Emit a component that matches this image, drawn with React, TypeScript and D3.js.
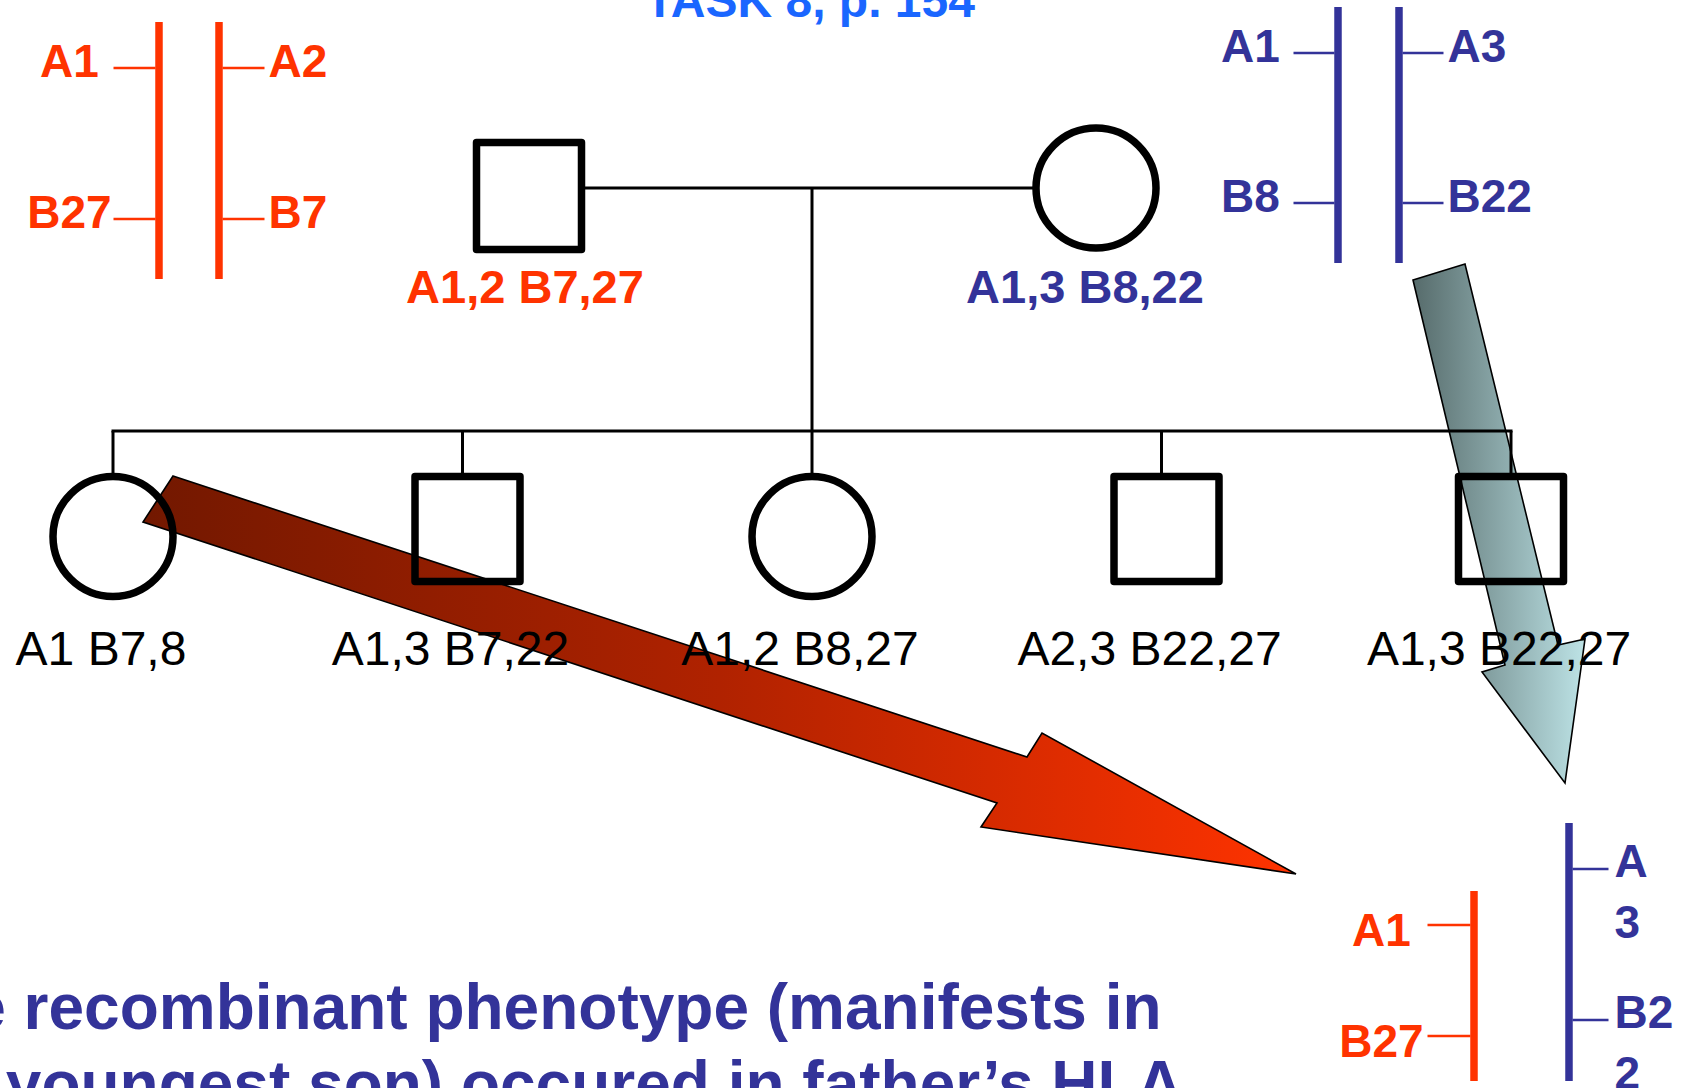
import React, { useEffect, useRef } from "react";
import * as d3 from "d3";

const WIDTH = 1686;
const HEIGHT = 1088;
const RED = "#ff3300";
const BLUE = "#333399";
const TITLE_BLUE = "#1a66ff";
const FONT = "'Liberation Sans', Arial, Helvetica, sans-serif";

// texts / genotypes
const title = "TASK 8, p. 154";
const fatherLabel = "A1,2 B7,27";
const motherLabel = "A1,3 B8,22";
const childSex = ["F", "M", "F", "M", "M"];
const childLabels = ["A1 B7,8", "A1,3 B7,22", "A1,2 B8,27", "A2,3 B22,27", "A1,3 B22,27"];
const fatherLeft = ["A1", "B27"];
const fatherRight = ["A2", "B7"];
const motherLeft = ["A1", "B8"];
const motherRight = ["A3", "B22"];
const recombLeft = ["A1", "B27"];
const recombRight = [["A", "3"], ["B2", "2"]];
const bottomText = [
  "The recombinant phenotype (manifests in",
  "the youngest son) occured in father\u2019s HLA",
];

function drawBar(g, opts) {
  const { x, y0, y1, color, loci, labels, side, tickLen, labelDx, labelDy } = opts;
  const y = d3.scalePoint().domain(labels.map((_, i) => i)).range(loci);
  g.append("line")
    .attr("x1", x).attr("x2", x)
    .attr("y1", y0).attr("y2", y1)
    .attr("stroke", color).attr("stroke-width", 7.5);
  labels.forEach((lab, i) => {
    const ty = y(i);
    const xs = side === "left" ? x - 3.5 - tickLen : x + 3.5;
    g.append("line")
      .attr("x1", xs).attr("x2", xs + tickLen)
      .attr("y1", ty).attr("y2", ty)
      .attr("stroke", color).attr("stroke-width", 2.4);
    const lines = Array.isArray(lab) ? lab : [lab];
    const t = g.append("text")
      .attr("fill", color)
      .attr("font-family", FONT)
      .attr("font-weight", "bold")
      .attr("font-size", 46)
      .attr("text-anchor", side === "left" ? "middle" : "start");
    lines.forEach((ln, j) => {
      t.append("tspan")
        .attr("x", side === "left" ? xs - labelDx : xs + tickLen + labelDx)
        .attr("y", ty + labelDy + j * 61)
        .text(ln);
    });
  });
}

export default function App() {
  const ref = useRef(null);

  useEffect(() => {
    const svg = d3.select(ref.current);
    svg.selectAll("*").remove();

    const defs = svg.append("defs");
    const redGrad = defs.append("linearGradient")
      .attr("id", "redGrad").attr("gradientUnits", "userSpaceOnUse")
      .attr("x1", 143).attr("x2", 1296).attr("y1", 0).attr("y2", 0);
    redGrad.append("stop").attr("offset", 0).attr("stop-color", "#721800");
    redGrad.append("stop").attr("offset", 0.5).attr("stop-color", "#b02200");
    redGrad.append("stop").attr("offset", 1).attr("stop-color", "#ff3300");
    const greyGrad = defs.append("linearGradient")
      .attr("id", "greyGrad").attr("gradientUnits", "userSpaceOnUse")
      .attr("x1", 1413).attr("x2", 1588).attr("y1", 0).attr("y2", 0);
    greyGrad.append("stop").attr("offset", 0).attr("stop-color", "#566b6b");
    greyGrad.append("stop").attr("offset", 1).attr("stop-color", "#bfe5e8");

    const line = d3.line().curve(d3.curveLinearClosed);

    // arrows go behind the pedigree
    svg.append("path")
      .attr("d", line([[173, 476], [1027, 757], [1042, 733], [1296, 874], [981, 827], [997, 803], [143, 522]]))
      .attr("fill", "url(#redGrad)").attr("stroke", "#000").attr("stroke-width", 1.6)
      .attr("stroke-linejoin", "miter");
    svg.append("path")
      .attr("d", line([[1413, 280], [1465, 264], [1558, 645], [1585, 639], [1565, 783], [1482, 672], [1505, 665]]))
      .attr("fill", "url(#greyGrad)").attr("stroke", "#000").attr("stroke-width", 1.6);

    // title (cut at top)
    svg.append("text")
      .attr("x", 645).attr("y", 17)
      .attr("fill", TITLE_BLUE).attr("font-family", FONT)
      .attr("font-weight", "bold").attr("font-size", 48)
      .text(title);

    // pedigree
    const x = d3.scaleLinear().domain([0, childSex.length - 1]).range([113, 1511]);
    const ped = svg.append("g").attr("fill", "none").attr("stroke", "#000");
    const coupleY = 188;
    const sibY = 431;
    const childTop = 473;
    const fatherX = 529;
    const motherX = 1096;
    const sq = 105;
    const r = 60;
    const sw = 7.5;
    const midX = x((childSex.length - 1) / 2);

    ped.append("line").attr("x1", fatherX + sq / 2).attr("x2", motherX - r)
      .attr("y1", coupleY).attr("y2", coupleY).attr("stroke-width", 3);
    ped.append("line").attr("x1", midX).attr("x2", midX)
      .attr("y1", coupleY).attr("y2", sibY).attr("stroke-width", 3);
    ped.append("line").attr("x1", x(0) - 1.5).attr("x2", x(childSex.length - 1) + 1.5)
      .attr("y1", sibY).attr("y2", sibY).attr("stroke-width", 3);

    ped.append("rect")
      .attr("x", fatherX - sq / 2).attr("y", 196 - 107 / 2)
      .attr("width", sq).attr("height", 107)
      .attr("fill", "#fff").attr("stroke-width", sw).attr("stroke-linejoin", "round");
    ped.append("circle")
      .attr("cx", motherX).attr("cy", coupleY).attr("r", r)
      .attr("fill", "#fff").attr("stroke-width", sw);

    childSex.forEach((s, i) => {
      const cx = x(i);
      ped.append("line").attr("x1", cx).attr("x2", cx)
        .attr("y1", sibY).attr("y2", childTop + 2).attr("stroke-width", 3);
      if (s === "M") {
        // boxes in the middle sit a little right of their drop line
        const shift = i < childSex.length - 1 ? 5 : 0;
        ped.append("rect")
          .attr("x", cx - sq / 2 + shift).attr("y", childTop + 3.5)
          .attr("width", sq).attr("height", 105)
          .attr("stroke-width", sw).attr("stroke-linejoin", "round");
      } else {
        ped.append("circle")
          .attr("cx", cx).attr("cy", childTop + 3.5 + r)
          .attr("r", r).attr("stroke-width", sw);
      }
    });

    const labels = svg.append("g").attr("font-family", FONT);
    labels.append("text")
      .attr("x", fatherX - 4).attr("y", 303)
      .attr("text-anchor", "middle").attr("font-weight", "bold").attr("font-size", 47)
      .attr("fill", RED).text(fatherLabel);
    labels.append("text")
      .attr("x", motherX - 11).attr("y", 303)
      .attr("text-anchor", "middle").attr("font-weight", "bold").attr("font-size", 47)
      .attr("fill", BLUE).text(motherLabel);
    labels.selectAll("text.child")
      .data(childLabels)
      .enter()
      .append("text")
      .attr("class", "child")
      .attr("x", (d, i) => x(i) - 12)
      .attr("y", 665)
      .attr("text-anchor", "middle")
      .attr("font-size", 48)
      .attr("fill", "#000")
      .text((d) => d);

    // chromosome sketches
    const chrom = svg.append("g");
    drawBar(chrom, { x: 159, y0: 22, y1: 279, color: RED, loci: [68, 219], labels: fatherLeft,
      side: "left", tickLen: 42, labelDx: 44, labelDy: 9 });
    drawBar(chrom, { x: 219, y0: 22, y1: 279, color: RED, loci: [68, 219], labels: fatherRight,
      side: "right", tickLen: 42, labelDx: 4, labelDy: 9 });
    drawBar(chrom, { x: 1338, y0: 7, y1: 263, color: BLUE, loci: [53, 203], labels: motherLeft,
      side: "left", tickLen: 41, labelDx: 43, labelDy: 9 });
    drawBar(chrom, { x: 1399, y0: 7, y1: 263, color: BLUE, loci: [53, 203], labels: motherRight,
      side: "right", tickLen: 41, labelDx: 4, labelDy: 9 });
    drawBar(chrom, { x: 1474, y0: 891, y1: 1081, color: RED, loci: [925, 1036], labels: recombLeft,
      side: "left", tickLen: 43, labelDx: 46, labelDy: 21 });
    drawBar(chrom, { x: 1569, y0: 823, y1: 1081, color: BLUE, loci: [869, 1020], labels: recombRight,
      side: "right", tickLen: 36, labelDx: 6, labelDy: 7.5 });

    // explanation text (cut at left and bottom)
    const bt = svg.append("text")
      .attr("font-family", FONT).attr("font-weight", "bold")
      .attr("font-size", 64).attr("fill", BLUE);
    bottomText.forEach((t, i) => {
      bt.append("tspan").attr("x", -108).attr("y", 1029 + i * 77).text(t);
    });
  }, []);

  return (
    <svg
      ref={ref}
      width={WIDTH}
      height={HEIGHT}
      style={{ position: "absolute", left: 0, top: 0, background: "#fff", overflow: "hidden" }}
    />
  );
}
